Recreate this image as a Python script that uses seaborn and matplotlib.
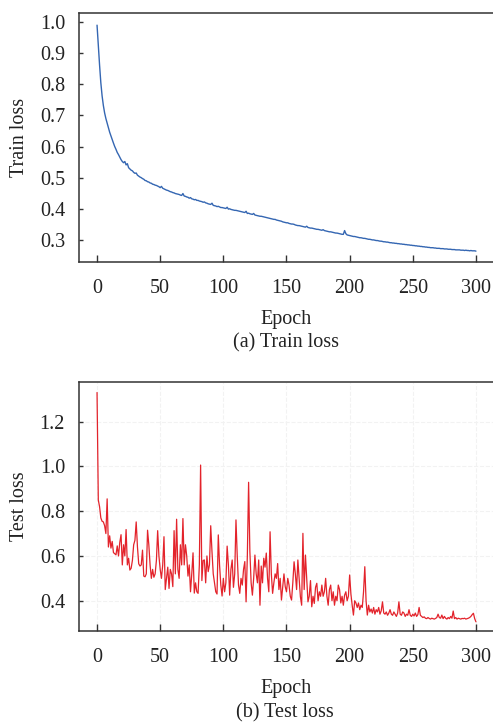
import numpy as np
import pandas as pd
import seaborn as sns
import matplotlib.pyplot as plt

# values, one per epoch (0..300)
train_loss = [
    0.990, 0.925, 0.862, 0.805, 0.763, 0.732, 0.708, 0.690, 0.675, 0.660,
    0.646, 0.634, 0.622, 0.611, 0.600, 0.591, 0.581, 0.574, 0.566, 0.558,
    0.552, 0.548, 0.552, 0.541, 0.545, 0.532, 0.528, 0.524, 0.522, 0.517,
    0.514, 0.515, 0.508, 0.505, 0.502, 0.500, 0.497, 0.495, 0.491, 0.490,
    0.487, 0.486, 0.483, 0.482, 0.479, 0.478, 0.476, 0.475, 0.473, 0.471,
    0.468, 0.472, 0.466, 0.464, 0.462, 0.460, 0.459, 0.457, 0.455, 0.454,
    0.452, 0.451, 0.449, 0.448, 0.447, 0.446, 0.444, 0.443, 0.449, 0.441,
    0.440, 0.438, 0.437, 0.434, 0.436, 0.432, 0.431, 0.429, 0.430, 0.427,
    0.427, 0.425, 0.424, 0.423, 0.421, 0.422, 0.419, 0.418, 0.416, 0.415,
    0.414, 0.418, 0.411, 0.410, 0.409, 0.407, 0.408, 0.406, 0.404, 0.404,
    0.403, 0.402, 0.401, 0.405, 0.399, 0.400, 0.398, 0.397, 0.396, 0.395,
    0.395, 0.394, 0.393, 0.392, 0.391, 0.390, 0.389, 0.388, 0.392, 0.385,
    0.386, 0.384, 0.383, 0.382, 0.385, 0.380, 0.379, 0.378, 0.377, 0.376,
    0.376, 0.375, 0.374, 0.373, 0.372, 0.371, 0.370, 0.369, 0.368, 0.367,
    0.366, 0.366, 0.364, 0.363, 0.362, 0.361, 0.360, 0.358, 0.357, 0.356,
    0.355, 0.355, 0.353, 0.352, 0.351, 0.351, 0.350, 0.348, 0.347, 0.346,
    0.346, 0.345, 0.344, 0.343, 0.342, 0.341, 0.344, 0.340, 0.339, 0.338,
    0.338, 0.337, 0.336, 0.335, 0.334, 0.334, 0.333, 0.332, 0.331, 0.333,
    0.330, 0.329, 0.328, 0.327, 0.326, 0.326, 0.325, 0.324, 0.323, 0.322,
    0.322, 0.321, 0.320, 0.319, 0.318, 0.318, 0.330, 0.320, 0.316, 0.315,
    0.314, 0.313, 0.312, 0.311, 0.311, 0.310, 0.309, 0.308, 0.307, 0.307,
    0.306, 0.305, 0.305, 0.304, 0.303, 0.302, 0.302, 0.301, 0.300, 0.300,
    0.299, 0.298, 0.298, 0.297, 0.296, 0.296, 0.295, 0.294, 0.294, 0.293,
    0.293, 0.292, 0.291, 0.291, 0.290, 0.290, 0.289, 0.289, 0.288, 0.288,
    0.287, 0.287, 0.286, 0.286, 0.285, 0.285, 0.284, 0.284, 0.283, 0.283,
    0.282, 0.282, 0.281, 0.281, 0.280, 0.280, 0.279, 0.279, 0.278, 0.278,
    0.277, 0.277, 0.276, 0.276, 0.275, 0.275, 0.275, 0.274, 0.274, 0.273,
    0.273, 0.273, 0.272, 0.272, 0.272, 0.271, 0.271, 0.271, 0.270, 0.270,
    0.270, 0.269, 0.269, 0.269, 0.268, 0.268, 0.268, 0.268, 0.267, 0.267,
    0.267, 0.266, 0.267, 0.266, 0.266, 0.265, 0.266, 0.265, 0.265, 0.265,
    0.264,
]

test_loss = [
    1.330, 0.850, 0.820, 0.770, 0.755, 0.752, 0.735, 0.700, 0.855, 0.640,
    0.690, 0.635, 0.665, 0.615, 0.610, 0.605, 0.645, 0.600, 0.660, 0.695,
    0.560, 0.650, 0.600, 0.718, 0.560, 0.590, 0.537, 0.545, 0.580, 0.650,
    0.670, 0.752, 0.640, 0.565, 0.555, 0.560, 0.626, 0.510, 0.507, 0.520,
    0.715, 0.650, 0.560, 0.500, 0.540, 0.505, 0.520, 0.580, 0.713, 0.600,
    0.540, 0.500, 0.560, 0.686, 0.450, 0.500, 0.550, 0.455, 0.540, 0.520,
    0.463, 0.713, 0.520, 0.764, 0.540, 0.500, 0.650, 0.560, 0.767, 0.560,
    0.650, 0.600, 0.510, 0.560, 0.440, 0.520, 0.614, 0.434, 0.480, 0.440,
    0.433, 0.560, 1.006, 0.490, 0.580, 0.582, 0.480, 0.600, 0.530, 0.560,
    0.735, 0.620, 0.520, 0.480, 0.440, 0.430, 0.694, 0.560, 0.470, 0.421,
    0.500, 0.440, 0.480, 0.644, 0.560, 0.425, 0.540, 0.582, 0.460, 0.520,
    0.761, 0.600, 0.470, 0.433, 0.500, 0.470, 0.540, 0.575, 0.395, 0.600,
    0.929, 0.620, 0.480, 0.425, 0.500, 0.604, 0.520, 0.480, 0.582, 0.380,
    0.555, 0.480, 0.590, 0.550, 0.613, 0.500, 0.440, 0.708, 0.520, 0.433,
    0.480, 0.520, 0.500, 0.566, 0.450, 0.500, 0.403, 0.460, 0.520, 0.463,
    0.440, 0.500, 0.470, 0.420, 0.403, 0.480, 0.574, 0.520, 0.450, 0.582,
    0.500, 0.418, 0.380, 0.701, 0.450, 0.604, 0.500, 0.395, 0.420, 0.490,
    0.373, 0.420, 0.388, 0.460, 0.478, 0.400, 0.440, 0.420, 0.470, 0.420,
    0.440, 0.500, 0.420, 0.380, 0.450, 0.470, 0.400, 0.440, 0.380, 0.420,
    0.400, 0.470, 0.450, 0.390, 0.420, 0.380, 0.425, 0.440, 0.400, 0.420,
    0.515, 0.430, 0.380, 0.336, 0.400, 0.390, 0.370, 0.390, 0.360, 0.380,
    0.370, 0.440, 0.552, 0.400, 0.336, 0.380, 0.350, 0.363, 0.345, 0.370,
    0.340, 0.360, 0.350, 0.370, 0.340, 0.355, 0.395, 0.345, 0.340, 0.350,
    0.335, 0.345, 0.360, 0.340, 0.335, 0.350, 0.340, 0.330, 0.345, 0.395,
    0.340, 0.335, 0.350, 0.345, 0.330, 0.340, 0.335, 0.360, 0.335, 0.330,
    0.340, 0.332, 0.345, 0.330, 0.338, 0.370, 0.335, 0.330, 0.325, 0.328,
    0.322, 0.320, 0.325, 0.321, 0.318, 0.322, 0.320, 0.318, 0.321, 0.325,
    0.340, 0.325, 0.322, 0.336, 0.320, 0.330, 0.322, 0.318, 0.325, 0.320,
    0.330, 0.322, 0.354, 0.320, 0.325, 0.318, 0.322, 0.320, 0.318, 0.321,
    0.320, 0.322, 0.318, 0.320, 0.322, 0.325, 0.330, 0.338, 0.344, 0.320,
    0.306,
]

epochs = np.arange(len(train_loss))
x_ticks = [0, 50, 100, 150, 200, 250, 300]
train_yticks = [0.3, 0.4, 0.5, 0.6, 0.7, 0.8, 0.9, 1.0]
test_yticks = [0.4, 0.6, 0.8, 1.0, 1.2]

df = pd.DataFrame({"epoch": epochs, "train": train_loss, "test": test_loss})

sns.set_style("ticks")
plt.rcParams["font.family"] = ["Liberation Serif", "DejaVu Serif"]

fig = plt.figure(figsize=(4.93, 7.24), dpi=100)
ax1 = fig.add_axes([0.1602, 0.6381, 0.8398, 0.3439])
ax2 = fig.add_axes([0.1602, 0.1285, 0.8398, 0.3439])

fs = 14.5
txt = "#222222"


def style(ax, yticks, ylabel):
    for s in ["left", "top", "bottom"]:
        ax.spines[s].set_color("#333333")
        ax.spines[s].set_linewidth(1.1)
    ax.spines["right"].set_visible(False)
    ax.set_xticks(x_ticks)
    ax.set_yticks(yticks)
    ax.set_yticklabels([f"{v:.1f}" for v in yticks])
    ax.tick_params(axis="x", direction="in", length=5, width=1, pad=12,
                   labelsize=fs, colors="#333333", labelcolor=txt)
    ax.tick_params(axis="y", direction="in", length=3, width=1, pad=10,
                   labelsize=fs, colors="#333333", labelcolor=txt)
    ax.set_xlim(-14.3, 313.5)
    ax.set_xlabel("Epoch", fontsize=fs, color=txt, labelpad=9)
    ax.set_ylabel(ylabel, fontsize=fs, color=txt, labelpad=8)


sns.lineplot(data=df, x="epoch", y="train", ax=ax1, color="#3466B2", linewidth=1.0)
style(ax1, train_yticks, "Train loss")
ax1.set_ylim(0.229, 1.029)

ax2.grid(True, color="#f2f2f2", linestyle="--", linewidth=0.8)
ax2.set_axisbelow(True)
sns.lineplot(data=df, x="epoch", y="test", ax=ax2, color="#E3232B", linewidth=0.9)
style(ax2, test_yticks, "Test loss")
ax2.set_ylim(0.265, 1.377)

fig.text(0.58, 1 - 343 / 724, "(a) Train loss", ha="center", va="center", fontsize=fs, color=txt)
fig.text(0.578, 1 - 713 / 724, "(b) Test loss", ha="center", va="center", fontsize=fs, color=txt)

fig.savefig("out.png", dpi=100)
